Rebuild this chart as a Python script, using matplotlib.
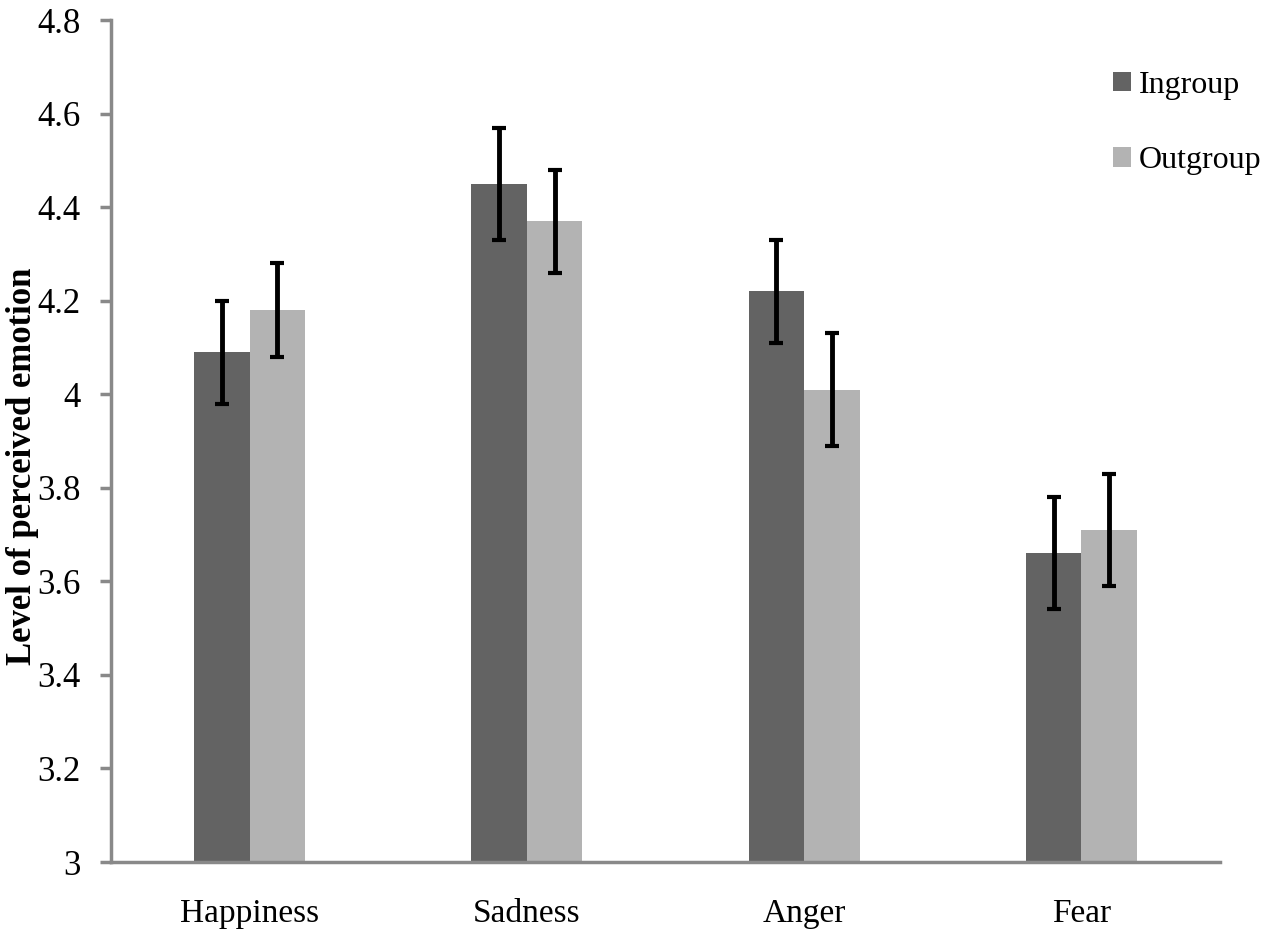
import matplotlib
matplotlib.use("Agg")
import matplotlib.pyplot as plt
import numpy as np

categories = ["Happiness", "Sadness", "Anger", "Fear"]
ingroup = [4.09, 4.45, 4.22, 3.66]
ingroup_err = [0.11, 0.12, 0.11, 0.12]
outgroup = [4.18, 4.37, 4.01, 3.71]
outgroup_err = [0.10, 0.11, 0.12, 0.12]
yticks = [3, 3.2, 3.4, 3.6, 3.8, 4, 4.2, 4.4, 4.6, 4.8]
ytick_labels = ["3", "3.2", "3.4", "3.6", "3.8", "4", "4.2", "4.4", "4.6", "4.8"]

plt.rcParams['font.family'] = ['Liberation Serif', 'DejaVu Serif']

W, H = 1267, 934
fig = plt.figure(figsize=(W / 100, H / 100), dpi=100)
ax = fig.add_axes([111 / W, (H - 862) / H, (1220 - 111) / W, (862 - 20) / H])

x = np.arange(len(categories)) + 0.5
bw = 0.2
dark = "#636363"
light = "#b3b3b3"
ekw = dict(ecolor="black", elinewidth=3.5, capthick=3, capsize=4.7)

ax.bar(x - bw / 2, ingroup, bw, color=dark, label="Ingroup",
       yerr=ingroup_err, error_kw=ekw, zorder=2)
ax.bar(x + bw / 2, outgroup, bw, color=light, label="Outgroup",
       yerr=outgroup_err, error_kw=ekw, zorder=2)

ax.set_xlim(0, len(categories))
ax.set_ylim(3, 4.8)
ax.set_xticks(x)
ax.set_xticklabels(categories, fontsize=24)
ax.set_yticks(yticks)
ax.set_yticklabels(ytick_labels, fontsize=25)

for s in ["top", "right"]:
    ax.spines[s].set_visible(False)
for s in ["left", "bottom"]:
    ax.spines[s].set_color("#898989")
    ax.spines[s].set_linewidth(2.5)
ax.tick_params(axis="x", length=0, pad=26)
ax.tick_params(axis="y", direction="out", length=8, width=2.5, color="#898989", pad=14)

ax.set_ylabel("Level of perceived emotion", fontsize=25, fontweight="bold")
ax.yaxis.set_label_coords((39 - 111) / (1220 - 111), (862 - 466) / (862 - 20))

leg = ax.legend(loc="upper left", bbox_to_anchor=(1113 / W, 1 - 71 / H),
                bbox_transform=fig.transFigure, frameon=False,
                fontsize=23, handlelength=0.56, handleheight=0.56,
                handletextpad=0.25, labelspacing=1.45,
                borderpad=0, borderaxespad=0)

fig.savefig("out.png", dpi=100)
